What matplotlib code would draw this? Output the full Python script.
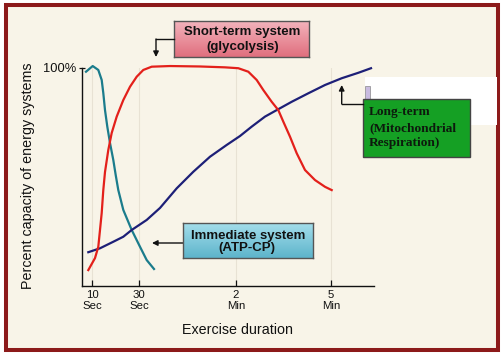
import numpy as np
import matplotlib
matplotlib.use("Agg")
import matplotlib.pyplot as plt
from matplotlib.patches import Rectangle
from matplotlib.lines import Line2D

# ---------------- data (x in arbitrary duration units, y in % capacity) -------------
tick_pos = [10, 57, 154, 249]
tick_labels = ["10\nSec", "30\nSec", "2\nMin", "5\nMin"]
ytick_pos = [100]
ytick_labels = ["100%"]

atp_x = [4, 10.7, 16.3, 19.7, 21.3, 23, 25.3, 28, 31.3, 33.7, 36.3, 41.3, 49.7, 58, 64.7, 72]
atp_y = [98.3, 100.9, 99.1, 94.5, 88.5, 80.7, 73.1, 65.6, 57.8, 50.9, 44.0, 34.9, 25.7, 18.0, 11.9, 7.8]

gly_x = [6.3, 13, 16.3, 18, 19.7, 21.3, 23, 26.3, 29.7, 34.7, 41.3, 48, 54.7, 61.3, 69.7, 88,
         118, 143, 156.3, 166.3, 174.7, 181.3, 189.7, 196.3, 201.3, 208, 214.7, 223, 233, 243, 249.7]
gly_y = [7.3, 12.8, 18.0, 25.7, 33.5, 44.0, 52.3, 62.4, 70.2, 77.7, 85.3, 91.4, 96.0, 99.1, 100.6, 100.9,
         100.7, 100.3, 99.9, 98.3, 94.5, 89.9, 84.5, 80.7, 75.4, 68.5, 60.9, 53.2, 48.6, 45.5, 44.0]

aer_x = [6.3, 18, 31.3, 41.3, 49.7, 64.7, 78, 94.7, 111.3, 128, 144.7, 158, 169.7, 183, 196.3,
         209.7, 226.3, 243, 259.7, 276.3, 289]
aer_y = [15.5, 17.3, 20.3, 22.6, 25.7, 30.3, 35.8, 44.8, 52.4, 59.3, 64.7, 68.8, 73.1, 77.7, 81.1,
         84.5, 88.4, 92.2, 95.3, 97.8, 99.9]

W, H = 504, 356
def fx(x):
    return x / W
def fy(y):
    return 1 - y / H

fig = plt.figure(figsize=(W / 100, H / 100), dpi=100)
fig.patch.set_facecolor("white")

cream = "#F8F4E8"
frame = Rectangle((fx(6), fy(349.5)), fx(497.5) - fx(6), fy(5) - fy(349.5),
                  transform=fig.transFigure, facecolor=cream, edgecolor="#8C1A1A",
                  lw=2.9, zorder=-10)
fig.add_artist(frame)

# main axes
AX_H = 286 - 68
ax = fig.add_axes([fx(82), fy(286), (374 - 82) / W, AX_H / H])
ax.set_facecolor("none")
ax.set_xlim(0, 292)
ax.set_ylim(0, 100)
for s in ["top", "right"]:
    ax.spines[s].set_visible(False)
for s in ["left", "bottom"]:
    ax.spines[s].set_linewidth(1.0)
    ax.spines[s].set_color("#111111")

for p in tick_pos:
    ax.axvline(p, color="#E8E2D4", lw=0.8, zorder=0)

ax.set_xticks(tick_pos, [""] * len(tick_pos))
ax.tick_params(axis="x", direction="in", length=4, width=0.9, colors="#111111")
xt = ax.get_xaxis_transform()
for p, lab in zip(tick_pos, tick_labels):
    ax.text(p, -(290.5 - 286) / AX_H, lab, transform=xt, ha="center", va="top",
            fontsize=8.2, family="Liberation Sans", color="#111111", linespacing=1.1)

ax.set_yticks(ytick_pos, ytick_labels)
ax.tick_params(axis="y", direction="inout", length=5, width=0.9, pad=2,
               labelsize=9.3, colors="#111111")
for lab in ax.get_yticklabels():
    lab.set_fontfamily("Liberation Sans")

ax.plot(atp_x, atp_y, color="#1B7C8C", lw=1.6, clip_on=False, zorder=3)
ax.plot(aer_x, aer_y, color="#1D1F77", lw=1.6, clip_on=False, zorder=3)
ax.plot(gly_x, gly_y, color="#E3201B", lw=1.6, clip_on=False, zorder=4)

# axis titles
fig.text(fx(28), fy(176), "Percent capacity of energy systems", rotation=90,
         ha="center", va="center", fontsize=10.3, family="Liberation Sans", color="#111111")
fig.text(fx(238), fy(330), "Exercise duration", ha="center", va="center",
         fontsize=10.3, family="Liberation Sans", color="#111111")

# gradient boxes
def grad_box(x0, y0, x1, y1, ctop, cbot, edge="#555555"):
    bx = fig.add_axes([fx(x0), fy(y1), (x1 - x0) / W, (y1 - y0) / H], zorder=5)
    c1 = np.array(matplotlib.colors.to_rgb(ctop))
    c2 = np.array(matplotlib.colors.to_rgb(cbot))
    t = np.linspace(0, 1, 64)[:, None]
    img = (c1[None, :] * (1 - t) + c2[None, :] * t)[:, None, :]
    bx.imshow(img, aspect="auto", extent=[0, 1, 0, 1], origin="upper")
    bx.set_xticks([]); bx.set_yticks([])
    for s in bx.spines.values():
        s.set_color(edge); s.set_linewidth(1.0)
    return bx

grad_box(174, 21, 309, 57, "#F3B3BC", "#E06F7E")
grad_box(183, 223, 313, 258, "#A4DEEB", "#5DB4CB")

txt_kw = dict(ha="center", va="center", fontsize=9.5, fontweight="bold",
              family="Liberation Sans", color="#111111", zorder=10)
fig.text(fx(242), fy(31.7), "Short-term system", **txt_kw)
fig.text(fx(242.5), fy(46.7), "(glycolysis)", **txt_kw)
fig.text(fx(248.5), fy(235.7), "Immediate system", **txt_kw)
fig.text(fx(247), fy(248.3), "(ATP-CP)", **txt_kw)

# long-term box with white strip
fig.add_artist(Rectangle((fx(365), fy(125)), fx(497) - fx(365), fy(77) - fy(125),
                         transform=fig.transFigure, facecolor="white", edgecolor="none", zorder=4))
fig.add_artist(Rectangle((fx(365), fy(99)), fx(370) - fx(365), fy(86) - fy(99),
                         transform=fig.transFigure, facecolor="#C9BBE0", edgecolor="#888888",
                         lw=0.5, zorder=4.5))
fig.add_artist(Rectangle((fx(363), fy(157)), fx(470) - fx(363), fy(99) - fy(157),
                         transform=fig.transFigure, facecolor="#15A024", edgecolor="#444444",
                         lw=1.0, zorder=6))
gkw = dict(ha="left", va="center", fontsize=9.6, fontweight="bold",
           family="Liberation Serif", color="#0D1A0D", zorder=11)
fig.text(fx(369), fy(112), "Long-term", **gkw)
fig.text(fx(369), fy(128), "(Mitochondrial", **gkw)
fig.text(fx(369), fy(143), "Respiration)", **gkw)

# arrows
def seg(xs, ys):
    fig.add_artist(Line2D([fx(x) for x in xs], [fy(y) for y in ys],
                          transform=fig.transFigure, color="#111111", lw=1.0, zorder=7))

def arrow(x0, y0, x1, y1):
    ax.annotate("", xy=(fx(x1), fy(y1)), xytext=(fx(x0), fy(y0)),
                xycoords="figure fraction", textcoords="figure fraction",
                arrowprops=dict(arrowstyle="-|>", color="#111111", lw=1.0,
                                mutation_scale=8, shrinkA=0, shrinkB=0),
                annotation_clip=False, zorder=7)

seg([174, 156], [39, 39])
arrow(156, 39, 156, 57)
seg([363, 341.7], [104, 104])
arrow(341.7, 104, 341.7, 85)
arrow(183, 243, 152, 243)

fig.savefig("out.png", dpi=100, facecolor=fig.get_facecolor())
